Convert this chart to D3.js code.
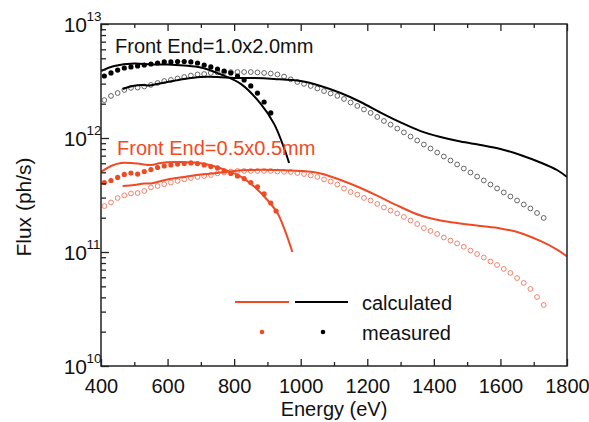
<!DOCTYPE html>
<html><head><meta charset="utf-8">
<script src="https://cdn.jsdelivr.net/npm/d3@7"></script>
<style>body{margin:0;background:#fff;} svg{display:block;font-family:"Liberation Sans",Arial,sans-serif;}</style>
</head><body>
<svg id="c" width="589" height="422"></svg>
<script>
// ---------- DATA ----------
const energyTicks = [400, 600, 800, 1000, 1200, 1400, 1600, 1800];
const energyMinorTicks = [500, 700, 900, 1100, 1300, 1500, 1700];
const fluxTicks = [1e10, 1e11, 1e12, 1e13];
const fluxTickExp = ["10", "11", "12", "13"];

// Calculated, aperture 1.0x2.0 mm (low-energy branch)
const calcBigLowE = [400, 440, 500, 550, 600, 650, 700, 760, 820, 880, 920, 950, 965];
const calcBigLowF = [3.87e12, 4.28e12, 4.51e12, 4.42e12, 4.42e12, 4.33e12, 4.15e12, 3.61e12, 2.98e12, 1.99e12, 1.33e12, 8.17e11, 6.04e11];
// Calculated, aperture 1.0x2.0 mm (high-energy branch)
const calcBigHighE = [465, 495, 525, 545, 600, 650, 700, 750, 800, 860, 920, 1000, 1060, 1120, 1180, 1240, 1300, 1360, 1420, 1480, 1540, 1600, 1660, 1720, 1770, 1800];
const calcBigHighF = [2.69e12, 2.86e12, 2.92e12, 2.89e12, 3.10e12, 3.30e12, 3.43e12, 3.43e12, 3.36e12, 3.36e12, 3.30e12, 3.16e12, 2.86e12, 2.48e12, 2.07e12, 1.67e12, 1.37e12, 1.15e12, 1.02e12, 9.31e11, 8.69e11, 8.02e11, 7.10e11, 6.10e11, 5.24e11, 4.55e11];
// Calculated, aperture 0.5x0.5 mm (low-energy branch)
const calcSmallLowE = [400, 430, 460, 490, 520, 550, 580, 620, 680, 720, 770, 820, 860, 900, 930, 950, 975];
const calcSmallLowF = [5.03e11, 5.68e11, 6.04e11, 6.04e11, 5.91e11, 5.80e11, 6.04e11, 6.16e11, 6.10e11, 5.86e11, 5.29e11, 4.59e11, 3.75e11, 2.86e11, 2.20e11, 1.62e11, 1.00e11];
// Calculated, aperture 0.5x0.5 mm (high-energy branch)
const calcSmallHighE = [465, 500, 530, 550, 575, 600, 650, 700, 750, 800, 850, 920, 1000, 1060, 1120, 1180, 1240, 1300, 1360, 1420, 1480, 1540, 1600, 1660, 1720, 1770, 1800];
const calcSmallHighF = [3.79e11, 3.87e11, 3.99e11, 3.99e11, 4.15e11, 4.33e11, 4.55e11, 4.79e11, 4.93e11, 5.14e11, 5.24e11, 5.24e11, 5.14e11, 4.89e11, 4.28e11, 3.64e11, 3.01e11, 2.48e11, 2.09e11, 1.89e11, 1.78e11, 1.69e11, 1.61e11, 1.47e11, 1.25e11, 1.05e11, 9.14e10];

// Measured, filled dots (low-energy branch)
const measBigLowE = [410, 430, 450, 470, 490, 510, 530, 550, 570, 590, 610, 630, 650, 670, 690, 710, 730, 750, 770, 790, 810, 830, 850, 870, 890, 910];
const measBigLowF = [3.50e12, 3.72e12, 3.94e12, 4.11e12, 4.20e12, 4.29e12, 4.37e12, 4.46e12, 4.55e12, 4.65e12, 4.65e12, 4.69e12, 4.69e12, 4.65e12, 4.55e12, 4.37e12, 4.20e12, 4.03e12, 3.87e12, 3.72e12, 3.50e12, 3.23e12, 2.86e12, 2.48e12, 2.07e12, 1.66e12];
const measSmallLowE = [410, 430, 450, 470, 490, 510, 530, 550, 570, 590, 610, 630, 650, 670, 690, 710, 730, 750, 770, 790, 810, 830, 850, 870, 890, 910, 926];
const measSmallLowF = [4.07e11, 4.24e11, 4.51e11, 4.79e11, 4.93e11, 4.83e11, 5.08e11, 5.29e11, 5.51e11, 5.68e11, 5.80e11, 5.91e11, 5.97e11, 6.04e11, 5.97e11, 5.80e11, 5.62e11, 5.46e11, 5.14e11, 4.89e11, 4.64e11, 4.41e11, 4.07e11, 3.72e11, 3.23e11, 2.69e11, 2.29e11];

// Measured, open circles (high-energy branch)
const measHighE = [410, 430, 450, 470, 490, 510, 530, 550, 570, 590, 610, 630, 650, 670, 690, 710, 730, 750, 770, 790, 810, 830, 850, 870, 890, 910, 930, 950, 970, 990, 1010, 1030, 1050, 1070, 1090, 1110, 1130, 1150, 1170, 1190, 1210, 1230, 1250, 1270, 1290, 1310, 1330, 1350, 1370, 1390, 1410, 1430, 1450, 1470, 1490, 1510, 1530, 1550, 1570, 1590, 1610, 1630, 1650, 1670, 1690, 1710, 1730];
const measBigHighF = [2.15e12, 2.34e12, 2.48e12, 2.64e12, 2.75e12, 2.77e12, 2.83e12, 2.92e12, 3.04e12, 3.16e12, 3.23e12, 3.33e12, 3.43e12, 3.53e12, 3.61e12, 3.64e12, 3.72e12, 3.76e12, 3.79e12, 3.79e12, 3.79e12, 3.79e12, 3.79e12, 3.76e12, 3.72e12, 3.68e12, 3.61e12, 3.46e12, 3.27e12, 3.10e12, 2.98e12, 2.86e12, 2.72e12, 2.58e12, 2.46e12, 2.34e12, 2.20e12, 2.05e12, 1.91e12, 1.78e12, 1.66e12, 1.53e12, 1.41e12, 1.31e12, 1.21e12, 1.12e12, 1.03e12, 9.51e11, 8.77e11, 8.09e11, 7.46e11, 6.88e11, 6.35e11, 5.86e11, 5.40e11, 4.98e11, 4.59e11, 4.24e11, 3.91e11, 3.61e11, 3.33e11, 3.07e11, 2.83e11, 2.61e11, 2.41e11, 2.20e11, 1.99e11];
const measSmallHighF = [2.53e11, 2.72e11, 2.98e11, 3.14e11, 3.26e11, 3.29e11, 3.43e11, 3.68e11, 3.79e11, 3.93e11, 4.07e11, 4.20e11, 4.33e11, 4.46e11, 4.55e11, 4.64e11, 4.74e11, 4.89e11, 4.98e11, 5.08e11, 5.14e11, 5.14e11, 5.14e11, 5.14e11, 5.14e11, 5.14e11, 5.08e11, 5.05e11, 5.03e11, 4.93e11, 4.83e11, 4.69e11, 4.55e11, 4.33e11, 4.15e11, 3.91e11, 3.61e11, 3.36e11, 3.19e11, 2.98e11, 2.83e11, 2.64e11, 2.46e11, 2.31e11, 2.18e11, 2.03e11, 1.89e11, 1.76e11, 1.62e11, 1.53e11, 1.44e11, 1.34e11, 1.26e11, 1.19e11, 1.11e11, 1.03e11, 9.60e10, 8.95e10, 8.26e10, 7.69e10, 7.10e10, 6.55e10, 5.91e10, 5.35e10, 4.74e10, 4.03e10, 3.43e10];

const labelBig = "Front End=1.0x2.0mm";
const labelSmall = "Front End=0.5x0.5mm";
const legendLabels = ["calculated", "measured"];
const xTitle = "Energy (eV)";
const yTitle = "Flux (ph/s)";

// ---------- LAYOUT ----------
const RED = "#f04a24", BLACK = "#000";
const L = 101, R = 567, T = 24, B = 366;
const svg = d3.select("#c");
const x = d3.scaleLinear().domain([400, 1800]).range([L, R]);
const y = d3.scaleLog().domain([1e10, 1e13]).range([B, T]);

const zip = (E, F) => E.map((e, i) => [e, F[i]]);
const line = d3.line().x(d => x(d[0])).y(d => y(d[1])).curve(d3.curveCatmullRom.alpha(0.5));

svg.append("clipPath").attr("id", "clip").append("rect").attr("x", L).attr("y", T).attr("width", R - L).attr("height", B - T);
const plot = svg.append("g").attr("clip-path", "url(#clip)");

function openDots(E, F, color) {
  plot.append("g").selectAll("circle").data(zip(E, F)).join("circle")
    .attr("cx", d => x(d[0])).attr("cy", d => y(d[1])).attr("r", 2.4)
    .attr("fill", "none").attr("stroke", color).attr("stroke-width", 0.9);
}
function filledDots(E, F, color) {
  plot.append("g").selectAll("circle").data(zip(E, F)).join("circle")
    .attr("cx", d => x(d[0])).attr("cy", d => y(d[1])).attr("r", 2.6).attr("fill", color);
}
function curve(E, F, color) {
  plot.append("path").datum(zip(E, F)).attr("d", line)
    .attr("fill", "none").attr("stroke", color).attr("stroke-width", 2);
}
openDots(measHighE, measSmallHighF, "#f3735a");
openDots(measHighE, measBigHighF, "#555");
curve(calcSmallHighE, calcSmallHighF, RED);
curve(calcSmallLowE, calcSmallLowF, RED);
curve(calcBigHighE, calcBigHighF, BLACK);
curve(calcBigLowE, calcBigLowF, BLACK);
filledDots(measSmallLowE, measSmallLowF, RED);
filledDots(measBigLowE, measBigLowF, BLACK);

// ---------- AXES ----------
const axisColor = "#222";
function styleAxis(g) {
  g.select(".domain").remove();
  g.selectAll("line").attr("stroke", axisColor).attr("stroke-width", 1.3);
}
svg.append("g").attr("transform", `translate(0,${B})`)
  .call(d3.axisBottom(x).tickValues(energyTicks).tickSize(-7).tickPadding(13).tickFormat(d3.format("d")))
  .call(styleAxis)
  .call(g => g.selectAll("text").attr("font-size", 20).attr("fill", "#111").attr("font-family", "Liberation Sans, Arial, sans-serif"));
svg.append("g").attr("transform", `translate(0,${B})`)
  .call(d3.axisBottom(x).tickValues(energyMinorTicks).tickSize(-4).tickFormat(""))
  .call(styleAxis);
svg.append("g").attr("transform", `translate(0,${T})`)
  .call(d3.axisTop(x).tickValues(energyTicks).tickSize(-7).tickFormat(""))
  .call(styleAxis);
svg.append("g").attr("transform", `translate(0,${T})`)
  .call(d3.axisTop(x).tickValues(energyMinorTicks).tickSize(-4).tickFormat(""))
  .call(styleAxis);

const minorFlux = [];
fluxTicks.slice(0, -1).forEach(dec => { for (let k = 2; k <= 9; k++) minorFlux.push(dec * k); });
svg.append("g").attr("transform", `translate(${L},0)`)
  .call(d3.axisLeft(y).tickValues(fluxTicks).tickSize(-8).tickFormat(""))
  .call(styleAxis);
svg.append("g").attr("transform", `translate(${L},0)`)
  .call(d3.axisLeft(y).tickValues(minorFlux).tickSize(-5).tickFormat(""))
  .call(styleAxis);

const yl = svg.append("g").attr("font-family", "Liberation Sans, Arial, sans-serif").attr("fill", "#111");
fluxTicks.forEach((v, i) => {
  yl.append("text").attr("x", 87).attr("y", y(v) + 7.5).attr("text-anchor", "end").attr("font-size", 21).text("10");
  yl.append("text").attr("x", 86.5).attr("y", y(v) - 3.5).attr("font-size", 13.5).text(fluxTickExp[i]);
});

svg.append("rect").attr("x", L).attr("y", T).attr("width", R - L).attr("height", B - T)
  .attr("fill", "none").attr("stroke", axisColor).attr("stroke-width", 1.5);

svg.append("text").attr("x", (L + R) / 2).attr("y", 416).attr("text-anchor", "middle")
  .attr("font-size", 20).attr("fill", "#111").text(xTitle);
svg.append("text").attr("transform", "translate(31,207) rotate(-90)").attr("text-anchor", "middle")
  .attr("font-size", 21).attr("fill", "#111").text(yTitle);

svg.append("text").attr("x", 115).attr("y", 53).attr("font-size", 20).attr("fill", "#111").text(labelBig);
svg.append("text").attr("x", 117).attr("y", 155).attr("font-size", 20).attr("fill", RED).text(labelSmall);

const lg = svg.append("g");
lg.append("line").attr("x1", 235).attr("x2", 289).attr("y1", 302).attr("y2", 302).attr("stroke", RED).attr("stroke-width", 2);
lg.append("line").attr("x1", 295).attr("x2", 348).attr("y1", 302).attr("y2", 302).attr("stroke", BLACK).attr("stroke-width", 2);
lg.append("circle").attr("cx", 262).attr("cy", 332).attr("r", 2.3).attr("fill", RED);
lg.append("circle").attr("cx", 323).attr("cy", 332).attr("r", 2.3).attr("fill", BLACK);
lg.selectAll("text").data(legendLabels).join("text")
  .attr("x", 362).attr("y", (d, i) => 310 + i * 30).attr("font-size", 20).attr("fill", "#111").text(d => d);
</script>
</body></html>
